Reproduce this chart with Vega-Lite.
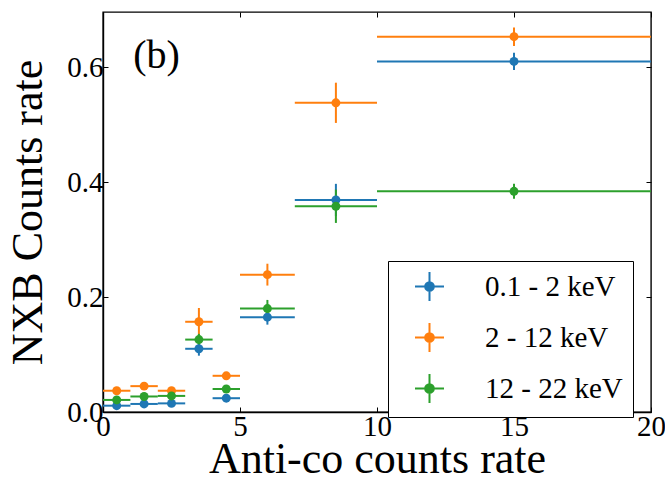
{
  "$schema": "https://vega.github.io/schema/vega-lite/v6.json",
  "autosize": {"type": "none"},
  "padding": {"left": 103, "top": 12, "right": 14, "bottom": 73},
  "width": 548,
  "height": 400,
  "background": "white",
  "config": {
    "view": {"stroke": "black", "strokeWidth": 1.4},
    "font": "Liberation Serif",
    "axis": {
      "labelFont": "Liberation Serif",
      "titleFont": "Liberation Serif",
      "labelFontSize": 29,
      "titleFontSize": 44,
      "titleFontWeight": "normal",
      "labelColor": "black",
      "titleColor": "black",
      "domainColor": "black",
      "tickColor": "black",
      "grid": false,
      "tickSize": -5,
      "tickWidth": 1,
      "domainWidth": 1.4
    }
  },
  "data": {
    "values": [
      {"band": "0.1 - 2 keV", "x": 0.5, "xmin": 0, "xmax": 1, "y": 0.011, "err": 0.004},
      {"band": "0.1 - 2 keV", "x": 1.5, "xmin": 1, "xmax": 2, "y": 0.014, "err": 0.004},
      {"band": "0.1 - 2 keV", "x": 2.5, "xmin": 2, "xmax": 3, "y": 0.015, "err": 0.004},
      {"band": "0.1 - 2 keV", "x": 3.5, "xmin": 3, "xmax": 4, "y": 0.110, "err": 0.012},
      {"band": "0.1 - 2 keV", "x": 4.5, "xmin": 4, "xmax": 5, "y": 0.024, "err": 0.004},
      {"band": "0.1 - 2 keV", "x": 6, "xmin": 5, "xmax": 7, "y": 0.165, "err": 0.013},
      {"band": "0.1 - 2 keV", "x": 8.5, "xmin": 7, "xmax": 10, "y": 0.369, "err": 0.028},
      {"band": "0.1 - 2 keV", "x": 15, "xmin": 10, "xmax": 20, "y": 0.610, "err": 0.015},
      {"band": "2 - 12 keV", "x": 0.5, "xmin": 0, "xmax": 1, "y": 0.037, "err": 0.004},
      {"band": "2 - 12 keV", "x": 1.5, "xmin": 1, "xmax": 2, "y": 0.045, "err": 0.004},
      {"band": "2 - 12 keV", "x": 2.5, "xmin": 2, "xmax": 3, "y": 0.037, "err": 0.004},
      {"band": "2 - 12 keV", "x": 3.5, "xmin": 3, "xmax": 4, "y": 0.157, "err": 0.024},
      {"band": "2 - 12 keV", "x": 4.5, "xmin": 4, "xmax": 5, "y": 0.063, "err": 0.004},
      {"band": "2 - 12 keV", "x": 6, "xmin": 5, "xmax": 7, "y": 0.239, "err": 0.019},
      {"band": "2 - 12 keV", "x": 8.5, "xmin": 7, "xmax": 10, "y": 0.538, "err": 0.035},
      {"band": "2 - 12 keV", "x": 15, "xmin": 10, "xmax": 20, "y": 0.653, "err": 0.016},
      {"band": "12 - 22 keV", "x": 0.5, "xmin": 0, "xmax": 1, "y": 0.021, "err": 0.004},
      {"band": "12 - 22 keV", "x": 1.5, "xmin": 1, "xmax": 2, "y": 0.027, "err": 0.004},
      {"band": "12 - 22 keV", "x": 2.5, "xmin": 2, "xmax": 3, "y": 0.028, "err": 0.004},
      {"band": "12 - 22 keV", "x": 3.5, "xmin": 3, "xmax": 4, "y": 0.126, "err": 0.010},
      {"band": "12 - 22 keV", "x": 4.5, "xmin": 4, "xmax": 5, "y": 0.040, "err": 0.004},
      {"band": "12 - 22 keV", "x": 6, "xmin": 5, "xmax": 7, "y": 0.180, "err": 0.015},
      {"band": "12 - 22 keV", "x": 8.5, "xmin": 7, "xmax": 10, "y": 0.358, "err": 0.029},
      {"band": "12 - 22 keV", "x": 15, "xmin": 10, "xmax": 20, "y": 0.384, "err": 0.013}
    ]
  },
  "layer": [
    {
      "layer": [
        {
          "mark": {"type": "rule", "strokeWidth": 2},
          "encoding": {
            "x": {"field": "xmin", "type": "quantitative", "scale": {"domain": [0, 20], "nice": false}, "title": "Anti-co counts rate",
                  "axis": {"title": "Anti-co counts rate", "values": [0, 5, 10, 15, 20], "labelPadding": 5, "titlePadding": -4, "labelFlush": false}},
            "x2": {"field": "xmax"},
            "y": {"field": "y", "type": "quantitative", "scale": {"domain": [0, 0.696], "nice": false, "zero": false}, "title": "NXB Counts rate",
                  "axis": {"title": "NXB Counts rate", "values": [0, 0.2, 0.4, 0.6], "format": ".1f", "labelPadding": 5, "titlePadding": 16, "labelFlush": false}},
            "color": {"field": "band", "type": "nominal",
                      "scale": {"domain": ["0.1 - 2 keV", "2 - 12 keV", "12 - 22 keV"], "range": ["#1f77b4", "#ff7f0e", "#2ca02c"]},
                      "legend": {
                        "title": null,
                        "orient": "none",
                        "legendX": 285,
                        "legendY": 249,
                        "strokeColor": "black",
                        "fillColor": "white",
                        "cornerRadius": 0,
                        "padding": 10,
                        "rowPadding": 14,
                        "symbolType": "M-1,0H1M0,-1V1M-0.3,0A0.3,0.3 0 1,0 0.3,0A0.3,0.3 0 1,0 -0.3,0Z",
                        "symbolSize": 841,
                        "symbolStrokeWidth": 2,
                        "symbolOffset": 16,
                        "labelOffset": 40,
                        "labelFont": "Liberation Serif",
                        "labelFontSize": 29,
                        "labelColor": "black",
                        "labelLimit": 300,
                        "encode": {"symbols": {"update": {"fill": {"scale": "color", "field": "value"}, "stroke": {"scale": "color", "field": "value"}, "fillOpacity": {"value": 1}, "strokeOpacity": {"value": 1}}}}
                      }}
          }
        },
        {
          "mark": {"type": "errorbar", "orient": "vertical", "thickness": 2},
          "encoding": {
            "x": {"field": "x", "type": "quantitative", "title": "Anti-co counts rate"},
            "y": {"field": "y", "type": "quantitative", "title": "NXB Counts rate"},
            "yError": {"field": "err"},
            "color": {"field": "band", "type": "nominal"}
          }
        },
        {
          "mark": {"type": "point", "filled": true, "size": 80, "opacity": 1},
          "encoding": {
            "x": {"field": "x", "type": "quantitative", "title": "Anti-co counts rate"},
            "y": {"field": "y", "type": "quantitative", "title": "NXB Counts rate"},
            "color": {"field": "band", "type": "nominal"}
          }
        },
        {
          "data": {"values": [{"label": "(b)", "x": 1.1, "y": 0.598}]},
          "mark": {"type": "text", "align": "left", "baseline": "alphabetic", "font": "Liberation Serif", "fontSize": 40, "color": "black"},
          "encoding": {
            "x": {"field": "x", "type": "quantitative", "title": "Anti-co counts rate"},
            "y": {"field": "y", "type": "quantitative", "title": "NXB Counts rate"},
            "text": {"field": "label"}
          }
        }
      ]
    },
    {
      "mark": {"type": "rule", "opacity": 0},
      "encoding": {
        "x": {"field": "xmin", "type": "quantitative", "scale": {"domain": [0, 20], "nice": false},
              "axis": {"orient": "top", "title": null, "labels": false, "values": [0, 5, 10, 15, 20], "domain": false}},
        "x2": {"field": "xmax"},
        "y": {"field": "y", "type": "quantitative", "scale": {"domain": [0, 0.696], "nice": false, "zero": false},
              "axis": {"orient": "right", "title": null, "labels": false, "values": [0, 0.2, 0.4, 0.6], "domain": false}}
      }
    }
  ],
  "resolve": {"scale": {"x": "independent", "y": "independent"}}
}
